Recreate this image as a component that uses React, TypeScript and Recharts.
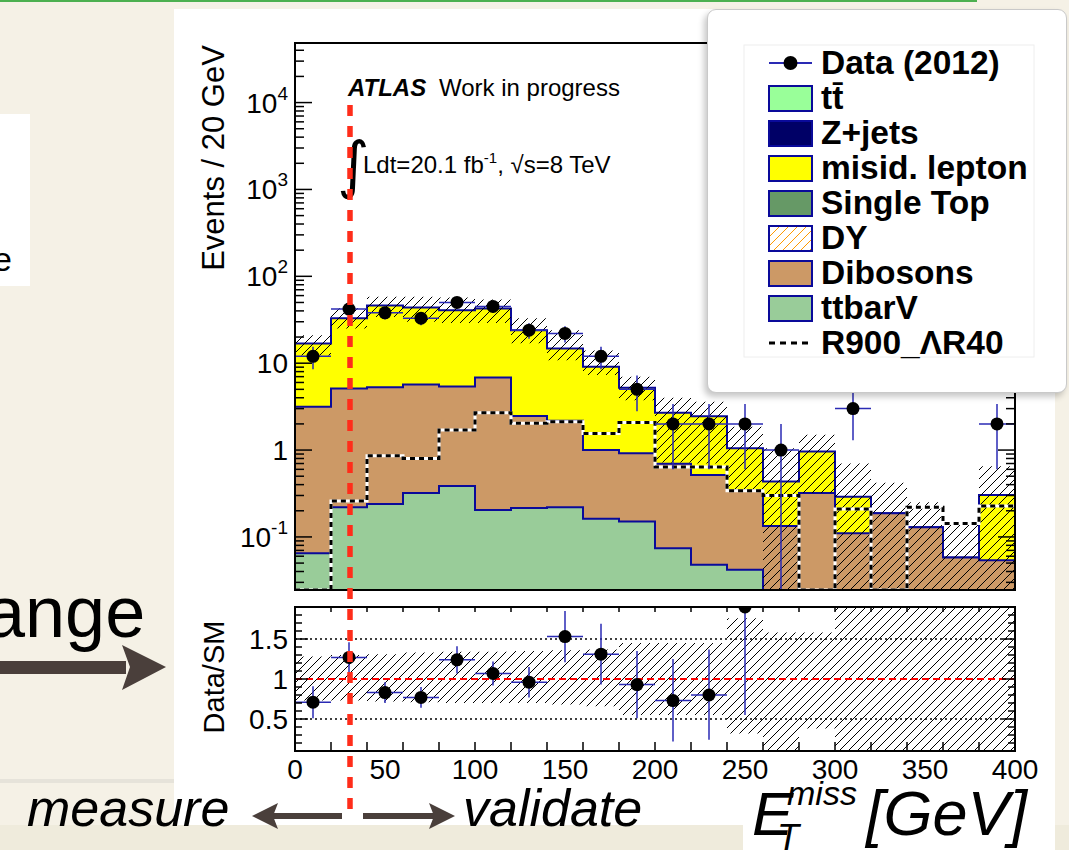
import React from 'react'
import { ComposedChart, Area, Line, Scatter, ErrorBar, XAxis, YAxis, ReferenceLine } from 'recharts'

// binning: 20 bins of 20 GeV in E_T^miss
const binEdges = [0, 20, 40, 60, 80, 100, 120, 140, 160, 180, 200, 220, 240, 260, 280, 300, 320, 340, 360, 380, 400]
const binCenters = [10, 30, 50, 70, 90, 110, 130, 150, 170, 190, 210, 230, 250, 270, 290, 310, 330, 350, 370, 390]

// background contributions per bin (events / 20 GeV)
const ttbarV = [0.065, 0.22, 0.24, 0.32, 0.385, 0.204, 0.215, 0.22, 0.162, 0.151, 0.074, 0.048, 0.042, 0, 0, 0, 0, 0, 0, 0]
const dibosons = [3.09, 4.88, 5.06, 5.38, 5.0, 6.65, 2.25, 1.95, 0.84, 0.77, 0.62, 0.47, 0.3, 0.134, 0.32, 0.11, 0.187, 0.129, 0.058, 0.054]
const misidLepton = [13.65, 27.9, 40.7, 38.0, 35.2, 35.65, 21.5, 12.6, 8.1, 4.3, 2.0, 1.94, 0.71, 0.3, 0.64, 0.18, 0, 0, 0, 0.25]

// signal (not stacked)
const signalR900 = [0, 0.26, 0.86, 0.8, 1.7, 2.68, 2.03, 2.12, 1.55, 2.08, 0.64, 0.64, 0.34, 0.3, 0, 0.21, 0, 0.22, 0.143, 0.227]

// systematic band on total SM
const bandHi = [21, 43, 58, 58, 57, 54, 33, 24, 14, 7.0, 4.0, 3.6, 1.85, 1.05, 1.5, 0.7, 0.42, 0.25, 0.14, 0.65]
const bandLo = [12.3, 25, 34, 30, 29, 29, 17, 10.8, 7.3, 3.75, 0.72, 0.7, 0.34, 0, 0.32, 0, 0, 0, 0, 0]

// data 2012
const data2012 = [12, 42, 38, 33, 50, 45, 24, 22, 12, 5, 2, 2, 2, 1, 0, 3, 0, 0, 0, 2]
const dataErr = [3.5, 6.5, 6.2, 5.7, 7.1, 6.7, 4.9, 4.7, 3.5, 2.2, 1.4, 1.4, 1.4, 1.0, 0, 1.7, 0, 0, 0, 1.4]

// ratio panel
const ratio = [0.71, 1.27, 0.83, 0.77, 1.24, 1.07, 0.96, 1.53, 1.31, 0.93, 0.73, 0.8, 1.9, null, null, null, null, null, null, null]
const ratioErrLo = [0.2, 0.19, 0.13, 0.13, 0.17, 0.15, 0.19, 0.32, 0.38, 0.42, 0.51, 0.56, 1.35, 0, 0, 0, 0, 0, 0, 0]
const ratioErrHi = [0.2, 0.19, 0.13, 0.13, 0.17, 0.15, 0.19, 0.32, 0.38, 0.42, 0.52, 0.57, 0, 0, 0, 0, 0, 0, 0, 0]
const ratioBandLo = [0.73, 0.73, 0.72, 0.71, 0.7, 0.7, 0.7, 0.68, 0.66, 0.55, 0.55, 0.55, 0.32, 0.1, 0.38, 0.1, 0.1, 0.1, 0.1, 0.1]
const ratioBandHi = [1.28, 1.3, 1.31, 1.33, 1.34, 1.34, 1.35, 1.36, 1.37, 1.45, 1.45, 1.45, 1.76, 1.58, 1.58, 1.9, 1.9, 1.9, 1.9, 1.9]

// axis ticks
const yDecades = [0.1, 1, 10, 100, 1000, 10000]
const yDecadeLabels = [['10', '-1'], ['1', ''], ['10', ''], ['10', '2'], ['10', '3'], ['10', '4']]
const xLabelTicks = [0, 50, 100, 150, 200, 250, 300, 350, 400]
const ratioLabelTicks = [0.5, 1, 1.5]
const ratioLabels = ['0.5', '1', '1.5']

const legendNames = ['Data (2012)', 'tt\u0304', 'Z+jets', 'misid. lepton', 'Single Top', 'DY', 'Dibosons', 'ttbarV', 'R900_\u039bR40']
const legendKinds = ['data', 'fill', 'fill', 'fill', 'fill', 'hatch', 'fill', 'fill', 'dash']
const legendColors = ['#000', '#99ff99', '#000066', '#ffff00', '#669966', '#ff9900', '#cc9966', '#99cc99', '#000']

const W = 1069
const PLOT_L = 295
const PLOT_R = 1015
const PLOT_W = PLOT_R - PLOT_L
const MAIN_T = 43
const MAIN_B = 590
const MAIN_H = MAIN_B - MAIN_T
const RATIO_T = 607
const RATIO_B = 751
const RATIO_H = RATIO_B - RATIO_T
const Y_MIN = 0.0245
const Y_MAX = 48500
const FONT = '"Liberation Sans", Arial, Helvetica, sans-serif'
const OUTLINE = '#0a0a9a'
const ERRBLUE = '#2a2ab4'

const floorY = (v: number) => Math.max(v, Y_MIN)
const stepData = (vals: number[]) =>
  binEdges.map((x, i) => ({ x, v: floorY(vals[Math.min(i, vals.length - 1)]) }))

const ttbarVTop = ttbarV
const dibosonTop = ttbarV.map((v, i) => v + dibosons[i])
const totalSM = dibosonTop.map((v, i) => v + misidLepton[i])

const bandData = binEdges.map((x, i) => {
  const k = Math.min(i, 19)
  return { x, r: [floorY(bandLo[k]), floorY(bandHi[k])] }
})
const ratioBandData = binEdges.map((x, i) => {
  const k = Math.min(i, 19)
  return { x, r: [ratioBandLo[k], ratioBandHi[k]] }
})

const dataPoints = binCenters
  .map((x, i) => ({ x, y: data2012[i], ex: 10, ey: [Math.min(dataErr[i], data2012[i] - Y_MIN), dataErr[i]] }))
  .filter((p) => p.y > 0)
const ratioPoints = binCenters
  .map((x, i) => ({ x, y: ratio[i], ex: 10, ey: [ratioErrLo[i], ratioErrHi[i]] }))
  .filter((p) => p.y != null)

const mainYTicks: number[] = []
;[0.01, 0.1, 1, 10, 100, 1000, 10000].forEach((d) => {
  for (let m = 1; m <= 9; m++) {
    const v = m === 1 ? d : m * d
    if (v >= Y_MIN && v <= Y_MAX) mainYTicks.push(v)
  }
})
const xTicks20 = binEdges
const xTicks10: number[] = []
for (let k = 0; k <= 40; k++) xTicks10.push(k * 10)
const ratioYTicks: number[] = []
for (let k = 2; k <= 18; k++) ratioYTicks.push(k / 10)

function MainXTick({ x, y }: any) {
  return (
    <g>
      <line x1={x} x2={x} y1={y} y2={y - 16} stroke="#000" strokeWidth={1.5} />
      <line x1={x} x2={x} y1={y - MAIN_H} y2={y - MAIN_H + 16} stroke="#000" strokeWidth={1.5} />
    </g>
  )
}

function MainYTick({ x, y, payload }: any) {
  const idx = yDecades.indexOf(payload.value)
  const len = idx >= 0 ? 17 : 9
  return (
    <g>
      <line x1={x} x2={x + len} y1={y} y2={y} stroke="#000" strokeWidth={1.5} />
      <line x1={x + PLOT_W} x2={x + PLOT_W - len} y1={y} y2={y} stroke="#000" strokeWidth={1.5} />
      {idx >= 0 && (
        <text x={x - 7} y={y + 10} textAnchor="end" fontSize={28} fontFamily={FONT} fill="#000">
          {yDecadeLabels[idx][0]}
          {yDecadeLabels[idx][1] && (
            <tspan dy={-13} fontSize={19}>
              {yDecadeLabels[idx][1]}
            </tspan>
          )}
        </text>
      )}
    </g>
  )
}

function RatioXTick({ x, y, payload }: any) {
  const v = payload.value
  const li = xLabelTicks.indexOf(v)
  return (
    <g>
      {v % 20 === 0 && <line x1={x} x2={x} y1={y} y2={y - 9} stroke="#000" strokeWidth={1.5} />}
      {v % 20 === 0 && <line x1={x} x2={x} y1={y - RATIO_H} y2={y - RATIO_H + 5} stroke="#000" strokeWidth={1.5} />}
      {li >= 0 && (
        <text x={x} y={y + 28} textAnchor="middle" fontSize={28} fontFamily={FONT} fill="#000">
          {v}
        </text>
      )}
    </g>
  )
}

function RatioYTick({ x, y, payload }: any) {
  const li = ratioLabelTicks.indexOf(payload.value)
  const len = li >= 0 ? 13 : 7
  return (
    <g>
      <line x1={x} x2={x + len} y1={y} y2={y} stroke="#000" strokeWidth={1.5} />
      <line x1={x + PLOT_W} x2={x + PLOT_W - len} y1={y} y2={y} stroke="#000" strokeWidth={1.5} />
      {li >= 0 && (
        <text x={x - 7} y={y + 10} textAnchor="end" fontSize={28} fontFamily={FONT} fill="#000">
          {ratioLabels[li]}
        </text>
      )}
    </g>
  )
}

const hatchDef = (id: string, color: string, size: number) => (
  <pattern id={id} patternUnits="userSpaceOnUse" width={size} height={size}>
    <path
      d={`M0,${size} L${size},0 M${-size / 2},${size / 2} L${size / 2},${-size / 2} M${size / 2},${size * 1.5} L${size * 1.5},${size / 2}`}
      stroke={color}
      strokeWidth={1}
    />
  </pattern>
)

const dot = (p: any) => <circle cx={p.cx} cy={p.cy} r={6.5} fill="#000" />

function MainPanel() {
  return (
    <ComposedChart width={W} height={600} margin={{ top: MAIN_T, right: W - PLOT_R, bottom: 10, left: PLOT_L - 60 }}>
      <defs>{hatchDef('hatchMain', '#000', 9)}</defs>
      <XAxis
        type="number"
        dataKey="x"
        domain={[0, 400]}
        allowDataOverflow
        ticks={xTicks20}
        interval={0}
        height={0}
        tickSize={0}
        tickMargin={0}
        axisLine={false}
        tickLine={false}
        tick={(p: any) => <MainXTick {...p} />}
      />
      <YAxis
        type="number"
        scale="log"
        domain={[Y_MIN, Y_MAX]}
        allowDataOverflow
        ticks={mainYTicks}
        interval={0}
        width={60}
        tickSize={0}
        tickMargin={0}
        axisLine={false}
        tickLine={false}
        tick={(p: any) => <MainYTick {...p} />}
      />
      <Area data={stepData(totalSM)} dataKey="v" type="stepAfter" fill="#ffff00" fillOpacity={1} stroke={OUTLINE} strokeWidth={2} dot={false} activeDot={false} isAnimationActive={false} />
      <Area data={stepData(dibosonTop)} dataKey="v" type="stepAfter" fill="#cc9966" fillOpacity={1} stroke={OUTLINE} strokeWidth={2} dot={false} activeDot={false} isAnimationActive={false} />
      <Area data={stepData(ttbarVTop)} dataKey="v" type="stepAfter" fill="#99cc99" fillOpacity={1} stroke={OUTLINE} strokeWidth={2} dot={false} activeDot={false} isAnimationActive={false} />
      <Area data={bandData} dataKey="r" type="stepAfter" fill="url(#hatchMain)" fillOpacity={1} stroke="none" dot={false} activeDot={false} isAnimationActive={false} />
      <Line data={stepData(signalR900)} dataKey="v" type="stepAfter" stroke="#fff" strokeWidth={3} dot={false} activeDot={false} isAnimationActive={false} />
      <Line data={stepData(signalR900)} dataKey="v" type="stepAfter" stroke="#000" strokeWidth={3} strokeDasharray="5 4" dot={false} activeDot={false} isAnimationActive={false} />
      <Scatter data={dataPoints} dataKey="y" shape={dot} isAnimationActive={false}>
        <ErrorBar dataKey="ex" direction="x" width={0} stroke={ERRBLUE} strokeWidth={1.5} />
        <ErrorBar dataKey="ey" direction="y" width={0} stroke={ERRBLUE} strokeWidth={1.5} />
      </Scatter>
    </ComposedChart>
  )
}

function RatioPanel() {
  return (
    <ComposedChart width={W} height={200} margin={{ top: RATIO_T - 600, right: W - PLOT_R, bottom: 9, left: PLOT_L - 60 }}>
      <defs>{hatchDef('hatchRatio', '#000', 9)}</defs>
      <XAxis
        type="number"
        dataKey="x"
        domain={[0, 400]}
        allowDataOverflow
        ticks={xTicks10}
        interval={0}
        height={40}
        tickSize={0}
        tickMargin={0}
        axisLine={false}
        tickLine={false}
        tick={(p: any) => <RatioXTick {...p} />}
      />
      <YAxis
        type="number"
        domain={[0.1, 1.9]}
        allowDataOverflow
        ticks={ratioYTicks}
        interval={0}
        width={60}
        tickSize={0}
        tickMargin={0}
        axisLine={false}
        tickLine={false}
        tick={(p: any) => <RatioYTick {...p} />}
      />
      <Area data={ratioBandData} dataKey="r" type="stepAfter" fill="url(#hatchRatio)" fillOpacity={1} stroke="none" dot={false} activeDot={false} isAnimationActive={false} />
      <ReferenceLine y={1.5} stroke="#000" strokeWidth={1.3} strokeDasharray="2 3" />
      <ReferenceLine y={0.5} stroke="#000" strokeWidth={1.3} strokeDasharray="2 3" />
      <ReferenceLine y={1} stroke="#ff0000" strokeWidth={2} strokeDasharray="7 4" />
      <Scatter data={ratioPoints} dataKey="y" shape={dot} isAnimationActive={false}>
        <ErrorBar dataKey="ex" direction="x" width={0} stroke={ERRBLUE} strokeWidth={1.5} />
        <ErrorBar dataKey="ey" direction="y" width={0} stroke={ERRBLUE} strokeWidth={1.5} />
      </Scatter>
    </ComposedChart>
  )
}

function LegendBox() {
  const rowY = (i: number) => 62 + i * 35 - 9
  return (
    <div
      style={{
        position: 'absolute',
        left: 707,
        top: 9,
        width: 358,
        height: 382,
        background: '#fff',
        border: '1.5px solid #c9c9c9',
        borderRadius: 9,
        boxShadow: '-3px 4px 6px rgba(0,0,0,0.22)',
      }}
    >
      <svg width={358} height={382} style={{ position: 'absolute', left: 0, top: 0 }}>
        <defs>{hatchDef('hatchDY', '#ff9900', 9)}</defs>
        <rect x={36} y={35} width={290} height={312} fill="#fff" stroke="#eeeeee" strokeWidth={1} />
        {legendNames.map((name, i) => {
          const cy = rowY(i)
          const kind = legendKinds[i]
          return (
            <g key={name}>
              {kind === 'data' && (
                <g>
                  <line x1={61} x2={104} y1={cy} y2={cy} stroke={ERRBLUE} strokeWidth={2} />
                  <circle cx={82.5} cy={cy} r={7} fill="#000" />
                </g>
              )}
              {kind === 'fill' && (
                <rect x={61} y={cy - 12} width={43} height={25} fill={legendColors[i]} stroke={OUTLINE} strokeWidth={2} />
              )}
              {kind === 'hatch' && (
                <rect x={61} y={cy - 12} width={43} height={25} fill="url(#hatchDY)" stroke={OUTLINE} strokeWidth={2} />
              )}
              {kind === 'dash' && (
                <line x1={61} x2={104} y1={cy} y2={cy} stroke="#000" strokeWidth={3} strokeDasharray="6 5" />
              )}
              <text x={113} y={cy + 11} fontSize={33.5} fontWeight="bold" fontFamily={FONT} fill="#000">
                {name}
              </text>
            </g>
          )
        })}
      </svg>
    </div>
  )
}

function Overlay() {
  const slideInk = '#4a3f3b'
  return (
    <svg width={W} height={850} style={{ position: 'absolute', left: 0, top: 0, pointerEvents: 'none' }}>
      {/* frames */}
      <rect x={PLOT_L} y={MAIN_T} width={PLOT_W} height={MAIN_H} fill="none" stroke="#000" strokeWidth={2} />
      <rect x={PLOT_L} y={RATIO_T} width={PLOT_W} height={RATIO_H} fill="none" stroke="#000" strokeWidth={2} />

      {/* axis titles */}
      <text transform="translate(224,158) rotate(-90)" textAnchor="middle" fontSize={31} fontFamily={FONT} fill="#000">
        Events / 20 GeV
      </text>
      <text transform="translate(224,677) rotate(-90)" textAnchor="middle" fontSize={29} fontFamily={FONT} fill="#000">
        Data/SM
      </text>

      {/* ATLAS labels */}
      <text x={348} y={96} fontSize={24} fontFamily={FONT} fill="#000">
        <tspan fontWeight="bold" fontStyle="italic">ATLAS</tspan>
        <tspan x={439}>Work in progress</tspan>
      </text>
      <text x={337} y={186} fontSize={62} fontFamily='"DejaVu Sans", sans-serif' fill="#000">
        ∫
      </text>
      <text x={363} y={173} fontSize={24} fontFamily={FONT} fill="#000">
        Ldt=20.1 fb
        <tspan dy={-10} fontSize={15}>
          -1
        </tspan>
        <tspan dy={10}>, √s=8 TeV</tspan>
      </text>

      {/* slide annotations */}
      <line x1={350} x2={350} y1={105} y2={812} stroke="#ff2d1a" strokeWidth={5.5} strokeDasharray="11 10" />
      <text x={-7} y={271} fontSize={34} fontFamily={FONT} fill="#000">
        e
      </text>
      <text x={-15} y={637} fontSize={72} fontFamily={FONT} fill="#000">
        ange
      </text>
      <rect x={0} y={661} width={126} height={13} fill={slideInk} />
      <polygon points="122,645 166,667 122,690 130,667" fill={slideInk} />
      <text x={27} y={826} fontSize={52} fontStyle="italic" fontFamily={FONT} fill="#000">
        measure
      </text>
      <rect x={270} y={813} width={72} height={6} fill={slideInk} />
      <polygon points="252,816 278,803 273,816 278,829" fill={slideInk} />
      <rect x={363} y={813} width={72} height={6} fill={slideInk} />
      <polygon points="455,816 429,803 434,816 429,829" fill={slideInk} />
      <text x={463} y={826} fontSize={52} fontStyle="italic" fontFamily={FONT} fill="#000">
        validate
      </text>
      <text x={752} y={835} fontSize={62} fontStyle="italic" fontFamily={FONT} fill="#000">
        E
      </text>
      <text x={777} y={850} fontSize={36} fontStyle="italic" fontFamily={FONT} fill="#000">
        T
      </text>
      <text x={787} y={805} fontSize={34} fontStyle="italic" fontFamily={FONT} fill="#000">
        miss
      </text>
      <text x={866} y={835} fontSize={63} fontStyle="italic" fontFamily={FONT} fill="#000">
        [GeV]
      </text>
    </svg>
  )
}

export default function App() {
  return (
    <div style={{ position: 'absolute', left: 0, top: 0, width: W, height: 850, overflow: 'hidden', background: '#f5f1e6', fontFamily: FONT }}>
      <div style={{ position: 'absolute', left: 0, top: 0, width: 977, height: 2, background: '#4cb050' }} />
      <div style={{ position: 'absolute', left: 0, top: 825, width: W, height: 25, background: '#efebdc' }} />
      <div style={{ position: 'absolute', left: 0, top: 779, width: 174, height: 4, background: '#e6e3da' }} />
      <div style={{ position: 'absolute', left: 0, top: 114, width: 30, height: 172, background: '#fff' }} />
      <div style={{ position: 'absolute', left: 174, top: 9, width: 881, height: 816, background: '#fff' }} />
      <div style={{ position: 'absolute', left: 743, top: 825, width: 312, height: 25, background: '#fff' }} />
      <div style={{ position: 'absolute', left: 0, top: 0 }}>
        <MainPanel />
      </div>
      <div style={{ position: 'absolute', left: 0, top: 600 }}>
        <RatioPanel />
      </div>
      <Overlay />
      <LegendBox />
    </div>
  )
}
